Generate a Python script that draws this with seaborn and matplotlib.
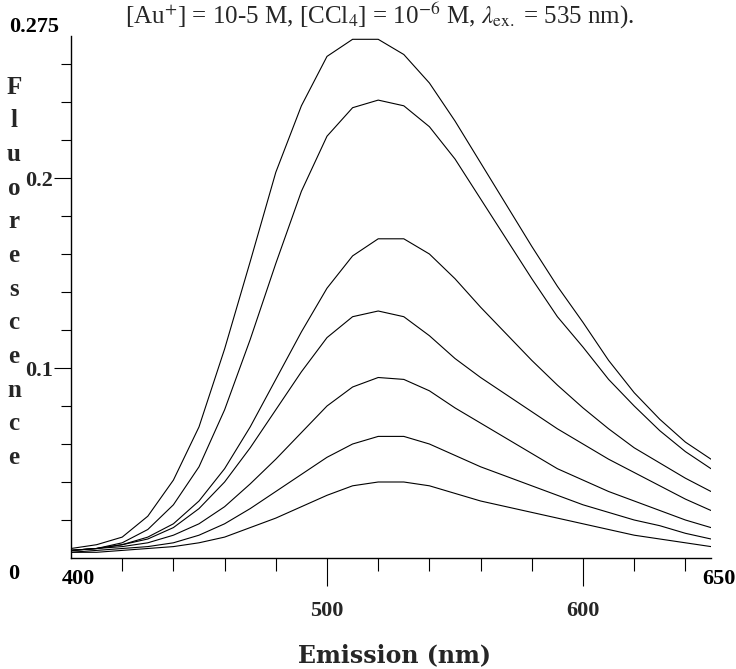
import numpy as np
import pandas as pd
import matplotlib
matplotlib.use("Agg")
import matplotlib.pyplot as plt
import seaborn as sns
from matplotlib.ticker import FixedLocator

# --- data (emission every 10 nm) ---
wavelength = list(range(400, 651, 10))

curve_1 = [0.005, 0.007, 0.011, 0.022, 0.041, 0.069, 0.110, 0.156, 0.203, 0.238, 0.264, 0.273, 0.273,
           0.265, 0.250, 0.230, 0.208, 0.186, 0.164, 0.143, 0.124, 0.104, 0.087, 0.073, 0.061, 0.052]
curve_2 = [0.004, 0.005, 0.008, 0.015, 0.028, 0.048, 0.078, 0.115, 0.155, 0.193, 0.222, 0.237, 0.241,
           0.238, 0.227, 0.210, 0.189, 0.168, 0.147, 0.127, 0.111, 0.094, 0.080, 0.067, 0.056, 0.047]
curve_3 = [0.004, 0.005, 0.007, 0.011, 0.018, 0.030, 0.047, 0.069, 0.094, 0.119, 0.142, 0.159, 0.168,
           0.168, 0.160, 0.147, 0.132, 0.118, 0.104, 0.091, 0.079, 0.068, 0.058, 0.050, 0.042, 0.035]
curve_4 = [0.004, 0.005, 0.007, 0.010, 0.016, 0.026, 0.040, 0.058, 0.078, 0.098, 0.116, 0.127, 0.130,
           0.127, 0.117, 0.105, 0.095, 0.086, 0.077, 0.068, 0.060, 0.052, 0.045, 0.038, 0.031, 0.025]
curve_5 = [0.004, 0.005, 0.006, 0.008, 0.012, 0.018, 0.027, 0.039, 0.052, 0.066, 0.080, 0.090, 0.095,
           0.094, 0.088, 0.079, 0.071, 0.063, 0.055, 0.047, 0.041, 0.035, 0.030, 0.025, 0.020, 0.016]
curve_6 = [0.003, 0.004, 0.005, 0.006, 0.008, 0.012, 0.018, 0.026, 0.035, 0.044, 0.053, 0.060, 0.064,
           0.064, 0.060, 0.054, 0.048, 0.043, 0.038, 0.033, 0.028, 0.024, 0.020, 0.017, 0.013, 0.010]
curve_7 = [0.003, 0.003, 0.004, 0.005, 0.006, 0.008, 0.011, 0.016, 0.021, 0.027, 0.033, 0.038, 0.040,
           0.040, 0.038, 0.034, 0.030, 0.027, 0.024, 0.021, 0.018, 0.015, 0.012, 0.010, 0.008, 0.006]

curves = [curve_1, curve_2, curve_3, curve_4, curve_5, curve_6, curve_7]

x_major = [500, 600]
y_major = [0.1, 0.2]
x_minor = list(range(420, 641, 20))
y_minor = [0.02, 0.04, 0.06, 0.08, 0.12, 0.14, 0.16, 0.18, 0.22, 0.24, 0.26]

title_txt = r"[Au$^{+}$] = 10-5 M, [CCl$_4$] = 10$^{-6}$ M, $\lambda_{\mathrm{ex.}}$ = 535 nm)."
ylabel_txt = "Fluorescence"

# long-form table for seaborn
df = pd.concat([pd.DataFrame({"nm": wavelength, "fluor": c, "curve": i})
                for i, c in enumerate(curves)], ignore_index=True)

sns.set_style("ticks")
plt.rcParams["font.family"] = ["Liberation Serif", "DejaVu Serif"]
plt.rcParams["mathtext.fontset"] = "stix"

W, H = 736, 669
fig = plt.figure(figsize=(W / 100, H / 100), dpi=100)
ax = fig.add_axes([71 / W, 1 - 558 / H, 640 / W, (558 - 35.5) / H])

sns.lineplot(data=df, x="nm", y="fluor", hue="curve", palette=["black"] * 7,
             legend=False, linewidth=0.8, ax=ax)

ax.set_xlim(400, 650)
ax.set_ylim(0, 0.275)
sns.despine(ax=ax)
for s in ["left", "bottom"]:
    ax.spines[s].set_linewidth(1.0)
    ax.spines[s].set_color("black")

ax.xaxis.set_major_locator(FixedLocator(x_major))
ax.xaxis.set_minor_locator(FixedLocator(x_minor))
ax.yaxis.set_major_locator(FixedLocator(y_major))
ax.yaxis.set_minor_locator(FixedLocator(y_minor))
ax.set_xticklabels([str(v) for v in x_major])
ax.set_yticklabels(["0.1", "0.2"])
ax.tick_params(axis="x", which="major", length=20, width=0.8, pad=11, labelsize=16, color="black")
ax.tick_params(axis="x", which="minor", length=9, width=0.8, color="black")
ax.tick_params(axis="y", which="major", length=12, width=0.8, pad=1, labelsize=16, color="black")
ax.tick_params(axis="y", which="minor", length=7, width=0.8, color="black")
for lab in ax.get_xticklabels() + ax.get_yticklabels():
    lab.set_fontweight("bold")
ax.set_xlabel("")
ax.set_ylabel("")

# end labels drawn beside the axis, as in the scan
bold = dict(fontsize=16, fontweight="bold", color="black")
fig.text(34 / W, 1 - 27 / H, "0.275", ha="center", va="center", **bold)
fig.text(14 / W, 1 - 574 / H, "0", ha="center", va="center", **bold)
fig.text(78 / W, 1 - 579 / H, "400", ha="center", va="center", **bold)
fig.text(719 / W, 1 - 579 / H, "650", ha="center", va="center", **bold)

# stacked y label
for i, ch in enumerate(ylabel_txt):
    fig.text(14 / W, 1 - (87 + i * 33.7) / H, ch, ha="center", va="center",
             fontsize=18, fontweight="bold")

fig.text(395 / W, 1 - 655 / H, "Emission (nm)", ha="center", va="center",
         fontsize=17, fontweight="bold", family="DejaVu Serif")

# title line along the top edge
fig.text(380 / W, 1 - 24 / H, title_txt, ha="center", va="baseline", fontsize=18)

fig.savefig("out.png", dpi=100)
